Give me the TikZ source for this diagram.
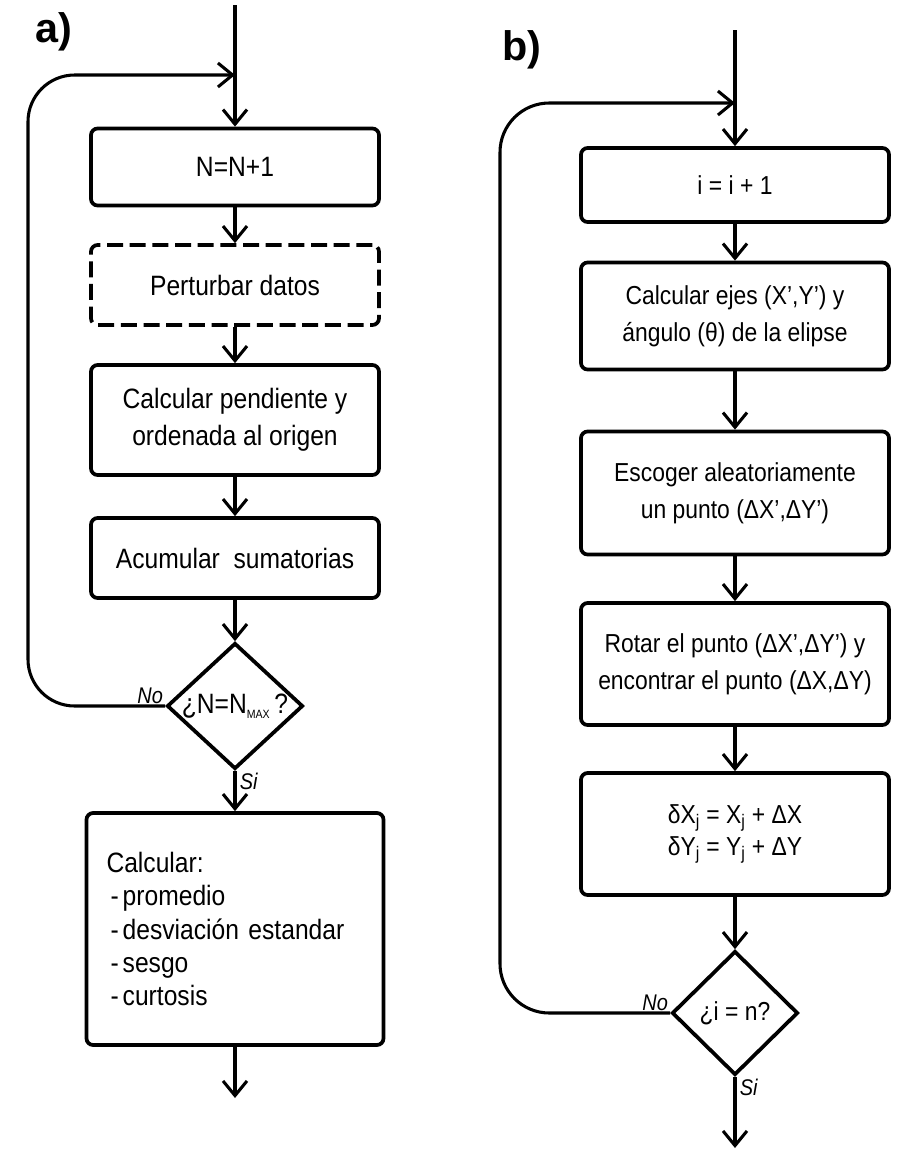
\documentclass[tikz,border=0pt]{standalone}
\usepackage{fontspec}
\setmainfont{Liberation Sans}
\newfontfamily\narrowfont{Liberation Sans}[FakeStretch=0.88]
\usetikzlibrary{arrows.meta,shapes.geometric}
\begin{document}
\begin{tikzpicture}[x=0.75pt,y=-0.75pt,
  flow/.style={-{Straight Barb[length=11pt,width=18pt]}, line width=2.3pt},
  box/.style={draw, line width=2.8pt, rounded corners=5pt, align=center, inner sep=0pt},
  ta/.style={font=\narrowfont\fontsize{21pt}{28pt}\selectfont},
  tb/.style={font=\narrowfont\fontsize{19.5pt}{28pt}\selectfont},
  dec/.style={draw, diamond, line width=2.8pt, inner sep=0pt},
  lab/.style={font=\narrowfont\itshape\fontsize{17pt}{17pt}\selectfont, inner sep=1.5pt},
  panel/.style={font=\bfseries\fontsize{31pt}{31pt}\selectfont}
]
\useasboundingbox (0,0) rectangle (896,1153);

% ---------- panel a ----------
\node[panel] (la) at (54,32) {a)};
\node[box, ta, minimum width=216pt, minimum height=57.75pt] (Na) at (235,167) {N=N+1};
\node[box, ta, dash pattern=on 12pt off 5pt, minimum width=216pt, minimum height=60pt] (Pa) at (235,285) {Perturbar datos};
\node[box, ta, minimum width=216pt, minimum height=82.5pt] (Ca) at (235,420) {Calcular pendiente y\\ordenada al origen};
\node[box, ta, minimum width=216pt, minimum height=60pt] (Aa) at (235,558) {Acumular\ \ sumatorias};
\node[dec, minimum width=102pt, minimum height=94.5pt] (Da) at (235,706) {};
\node[ta] (Dat) at (Da.center) {¿N=N\raisebox{-0.35ex}{\fontsize{9pt}{9pt}\selectfont MAX}\,?};
\node[box, font=\narrowfont\fontsize{21pt}{25pt}\selectfont, minimum width=222.75pt, minimum height=174pt,
      text width=192.75pt, align=left, inner xsep=15pt] (Ra) at (235,929)
      {Calcular:\\\hspace{3pt}-\hspace{3pt}promedio\\\hspace{3pt}-\hspace{3pt}desviación estandar\\\hspace{3pt}-\hspace{3pt}sesgo\\\hspace{3pt}-\hspace{3pt}curtosis};

\coordinate (ina) at (235,5);
\coordinate (ja) at (235,75);
\coordinate (outa) at (235,1098);

\draw[flow] (ina) -- (Na.north);
\draw[flow] (Na) -- (Pa);
\draw[flow] (Pa) -- (Ca);
\draw[flow] (Ca) -- (Aa);
\draw[flow] (Aa) -- (Da.north);
\draw[flow] (Da.south) -- (Ra.north);
\draw[flow] (Ra.south) -- (outa);
\draw[flow, rounded corners=35pt] (Da.west) -- (28,706) -- (28,75) -- (ja);
\node[lab, anchor=south east] (noa) at (Da.west) {No};
\node[lab, anchor=north west] (sia) at ([xshift=2pt]Da.south) {Si};

% ---------- panel b ----------
\node[panel] (lb) at (522,50) {b)};
\node[box, tb, minimum width=231pt, minimum height=55.5pt] (ib) at (735,185) {i = i + 1};
\node[box, tb, minimum width=231pt, minimum height=80.25pt] (Eb) at (735,316) {Calcular ejes (X’,Y’) y\\ángulo (θ) de la elipse};
\node[box, tb, minimum width=231pt, minimum height=92.25pt] (Sb) at (735,493) {Escoger aleatoriamente\\un punto (ΔX’,ΔY’)};
\node[box, tb, minimum width=231pt, minimum height=91.5pt] (Rb) at (735,664) {Rotar el punto (ΔX’,ΔY’) y\\encontrar el punto (ΔX,ΔY)};
\node[box, font=\narrowfont\fontsize{19.5pt}{24pt}\selectfont, minimum width=231pt, minimum height=91.5pt] (Xb) at (735,834)
      {δX\textsubscript{j} = X\textsubscript{j} + ΔX\\δY\textsubscript{j} = Y\textsubscript{j} + ΔY};
\node[dec, minimum width=94.5pt, minimum height=93pt] (Db) at (735,1013) {};
\node[tb] (Dbt) at (Db.center) {¿i = n?};

\coordinate (inb) at (735,30);
\coordinate (jb) at (735,103);
\coordinate (outb) at (735,1148);

\draw[flow] (inb) -- (ib.north);
\draw[flow] (ib) -- (Eb);
\draw[flow] (Eb) -- (Sb);
\draw[flow] (Sb) -- (Rb);
\draw[flow] (Rb) -- (Xb);
\draw[flow] (Xb) -- (Db.north);
\draw[flow] (Db.south) -- (outb);
\draw[flow, rounded corners=37pt] (Db.west) -- (500,1013) -- (500,103) -- (jb);
\node[lab, anchor=south east] (nob) at (Db.west) {No};
\node[lab, anchor=north west] (sib) at ([xshift=2pt]Db.south) {Si};
\end{tikzpicture}
\end{document}
